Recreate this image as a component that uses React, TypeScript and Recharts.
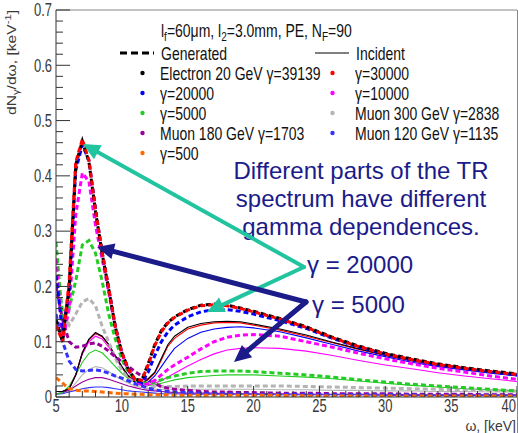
import React from 'react';
import { LineChart, Line, XAxis, YAxis, ReferenceLine } from 'recharts';

// photon energy omega [keV] (bin positions)
const OMEGA = [5, 5.5, 6, 6.5, 7, 7.5, 8, 8.5, 9, 9.5, 10, 10.5, 11, 11.5, 12, 12.5, 13, 13.5, 14, 15, 16, 17, 18, 19, 20, 22, 24, 26, 28, 30, 32, 34, 36, 38, 40];

// Generated spectra (dashed)
const GEN_E39139 = [0.14, 0.10, 0.20, 0.42, 0.463, 0.425, 0.335, 0.26, 0.195, 0.127, 0.08, 0.05, 0.032, 0.03, 0.06, 0.095, 0.12, 0.135, 0.145, 0.158, 0.166, 0.168, 0.166, 0.161, 0.155, 0.142, 0.127, 0.108, 0.092, 0.079, 0.069, 0.06, 0.053, 0.047, 0.042];
const GEN_G30000 = [0.13, 0.10, 0.21, 0.425, 0.466, 0.428, 0.338, 0.262, 0.197, 0.128, 0.08, 0.05, 0.032, 0.03, 0.058, 0.093, 0.118, 0.134, 0.144, 0.157, 0.165, 0.167, 0.165, 0.16, 0.154, 0.141, 0.126, 0.107, 0.091, 0.078, 0.068, 0.059, 0.052, 0.046, 0.041];
const GEN_G20000 = [0.22, 0.12, 0.19, 0.41, 0.456, 0.428, 0.34, 0.262, 0.197, 0.128, 0.08, 0.05, 0.031, 0.026, 0.045, 0.075, 0.1, 0.118, 0.13, 0.145, 0.154, 0.158, 0.158, 0.155, 0.15, 0.138, 0.124, 0.106, 0.09, 0.077, 0.067, 0.058, 0.051, 0.045, 0.04];
const GEN_G10000 = [0.25, 0.10, 0.16, 0.33, 0.405, 0.39, 0.31, 0.25, 0.19, 0.125, 0.078, 0.048, 0.03, 0.022, 0.024, 0.03, 0.04, 0.05, 0.058, 0.072, 0.087, 0.1, 0.108, 0.112, 0.113, 0.11, 0.1, 0.09, 0.079, 0.069, 0.06, 0.052, 0.045, 0.038, 0.032];
const GEN_G5000 = [0.28, 0.14, 0.16, 0.21, 0.275, 0.283, 0.26, 0.21, 0.15, 0.105, 0.068, 0.045, 0.032, 0.026, 0.025, 0.027, 0.031, 0.035, 0.038, 0.043, 0.046, 0.047, 0.047, 0.047, 0.046, 0.043, 0.04, 0.036, 0.031, 0.027, 0.023, 0.02, 0.017, 0.014, 0.011];
const GEN_M2838 = [0.22, 0.16, 0.13, 0.15, 0.172, 0.178, 0.165, 0.128, 0.1, 0.07, 0.048, 0.034, 0.026, 0.021, 0.019, 0.019, 0.019, 0.019, 0.019, 0.02, 0.02, 0.02, 0.02, 0.02, 0.02, 0.02, 0.019, 0.018, 0.017, 0.016, 0.015, 0.014, 0.013, 0.012, 0.011];
const GEN_M1703 = [0.2, 0.14, 0.1, 0.09, 0.092, 0.096, 0.098, 0.092, 0.083, 0.073, 0.064, 0.055, 0.046, 0.038, 0.03, 0.024, 0.019, 0.016, 0.014, 0.012, 0.01, 0.009, 0.009, 0.008, 0.008, 0.007, 0.007, 0.006, 0.006, 0.006, 0.005, 0.005, 0.005, 0.004, 0.004];
const GEN_M1135 = [0.15, 0.1, 0.065, 0.05, 0.047, 0.048, 0.049, 0.047, 0.043, 0.038, 0.034, 0.029, 0.024, 0.02, 0.016, 0.013, 0.011, 0.01, 0.009, 0.008, 0.007, 0.006, 0.006, 0.006, 0.005, 0.005, 0.005, 0.004, 0.004, 0.004, 0.004, 0.003, 0.003, 0.003, 0.003];
const GEN_G500 = [0.035, 0.025, 0.015, 0.012, 0.011, 0.011, 0.01, 0.009, 0.008, 0.007, 0.006, 0.006, 0.005, 0.005, 0.004, 0.004, 0.004, 0.004, 0.003, 0.003, 0.003, 0.003, 0.003, 0.003, 0.003, 0.003, 0.002, 0.002, 0.002, 0.002, 0.002, 0.002, 0.002, 0.002, 0.002];

// Incident spectra (solid)
const INC_E39139 = [0.01, 0.01, 0.015, 0.04, 0.08, 0.105, 0.117, 0.11, 0.095, 0.075, 0.055, 0.038, 0.027, 0.024, 0.033, 0.045, 0.07, 0.095, 0.11, 0.126, 0.133, 0.136, 0.137, 0.136, 0.132, 0.123, 0.112, 0.099, 0.087, 0.076, 0.066, 0.058, 0.051, 0.045, 0.04];
const INC_G30000 = [0.01, 0.01, 0.015, 0.04, 0.08, 0.104, 0.115, 0.109, 0.094, 0.074, 0.054, 0.037, 0.027, 0.024, 0.031, 0.043, 0.067, 0.092, 0.106, 0.123, 0.13, 0.134, 0.135, 0.134, 0.13, 0.121, 0.11, 0.098, 0.086, 0.075, 0.065, 0.057, 0.05, 0.044, 0.039];
const INC_G20000 = [0.01, 0.01, 0.015, 0.04, 0.08, 0.104, 0.115, 0.11, 0.095, 0.075, 0.055, 0.038, 0.027, 0.022, 0.027, 0.038, 0.055, 0.072, 0.088, 0.106, 0.117, 0.123, 0.126, 0.127, 0.125, 0.118, 0.107, 0.095, 0.083, 0.073, 0.063, 0.055, 0.049, 0.043, 0.038];
const INC_G10000 = [0.01, 0.01, 0.015, 0.04, 0.078, 0.1, 0.11, 0.105, 0.09, 0.072, 0.053, 0.037, 0.027, 0.022, 0.022, 0.025, 0.03, 0.036, 0.043, 0.056, 0.068, 0.078, 0.085, 0.088, 0.089, 0.088, 0.083, 0.075, 0.066, 0.058, 0.051, 0.044, 0.038, 0.033, 0.028];
const INC_G5000 = [0.005, 0.008, 0.02, 0.04, 0.063, 0.079, 0.085, 0.08, 0.068, 0.055, 0.043, 0.033, 0.026, 0.022, 0.021, 0.022, 0.025, 0.028, 0.031, 0.035, 0.037, 0.039, 0.04, 0.04, 0.04, 0.038, 0.036, 0.033, 0.029, 0.025, 0.021, 0.018, 0.015, 0.013, 0.011];
const INC_M2838 = [0.005, 0.007, 0.012, 0.025, 0.04, 0.05, 0.055, 0.053, 0.046, 0.038, 0.031, 0.025, 0.02, 0.017, 0.015, 0.014, 0.014, 0.014, 0.014, 0.014, 0.014, 0.014, 0.014, 0.014, 0.014, 0.013, 0.013, 0.012, 0.012, 0.011, 0.011, 0.01, 0.01, 0.009, 0.009];
const INC_M1703 = [0.006, 0.008, 0.012, 0.02, 0.027, 0.032, 0.035, 0.035, 0.032, 0.028, 0.024, 0.02, 0.017, 0.014, 0.012, 0.011, 0.01, 0.009, 0.008, 0.007, 0.007, 0.007, 0.006, 0.006, 0.006, 0.006, 0.005, 0.005, 0.005, 0.005, 0.004, 0.004, 0.004, 0.004, 0.004];
const INC_M1135 = [0.005, 0.006, 0.009, 0.012, 0.015, 0.017, 0.018, 0.018, 0.017, 0.015, 0.013, 0.011, 0.01, 0.009, 0.008, 0.007, 0.006, 0.006, 0.006, 0.005, 0.005, 0.005, 0.005, 0.005, 0.005, 0.004, 0.004, 0.004, 0.004, 0.003, 0.003, 0.003, 0.003, 0.003, 0.003];

// axis ticks
const X_TICKS = [5, 6, 7, 8, 9, 10, 11, 12, 13, 14, 15, 16, 17, 18, 19, 20, 21, 22, 23, 24, 25, 26, 27, 28, 29, 30, 31, 32, 33, 34, 35, 36, 37, 38, 39, 40];
const X_LABELS = ['5', '10', '15', '20', '25', '30', '35', '40'];
const Y_MAJOR = [0, 0.1, 0.2, 0.3, 0.4, 0.5, 0.6, 0.7];
const Y_LABELS = ['0', '0.1', '0.2', '0.3', '0.4', '0.5', '0.6', '0.7'];
const Y_TICKS: number[] = [];
for (let i = 0; i <= 35; i++) Y_TICKS.push(Math.round(i * 2) / 100);

const C = {
  black: '#000000',
  red: '#ff0000',
  blue: '#0000ff',
  magenta: '#ff00ff',
  green: '#22cc22',
  gray: '#b4b4b4',
  purple: '#990099',
  blue2: '#3333ff',
  orange: '#ff6a00',
};

const SERIES = [
  { key: 'iM2838', values: INC_M2838, color: C.gray, dashed: false },
  { key: 'iM1703', values: INC_M1703, color: C.purple, dashed: false },
  { key: 'iM1135', values: INC_M1135, color: C.blue2, dashed: false },
  { key: 'iG5000', values: INC_G5000, color: C.green, dashed: false },
  { key: 'iG10000', values: INC_G10000, color: C.magenta, dashed: false },
  { key: 'iG20000', values: INC_G20000, color: C.blue, dashed: false },
  { key: 'iG30000', values: INC_G30000, color: C.red, dashed: false },
  { key: 'iE39139', values: INC_E39139, color: C.black, dashed: false },
  { key: 'gM2838', values: GEN_M2838, color: C.gray, dashed: true },
  { key: 'gM1703', values: GEN_M1703, color: C.purple, dashed: true },
  { key: 'gM1135', values: GEN_M1135, color: C.blue2, dashed: true },
  { key: 'gG5000', values: GEN_G5000, color: C.green, dashed: true },
  { key: 'gG10000', values: GEN_G10000, color: C.magenta, dashed: true },
  { key: 'gG20000', values: GEN_G20000, color: C.blue, dashed: true },
  { key: 'gE39139', values: GEN_E39139, color: C.black, dashed: true },
  { key: 'gG30000', values: GEN_G30000, color: C.red, dashed: true },
  { key: 'gG500', values: GEN_G500, color: C.orange, dashed: true },
];

const ROWS = OMEGA.map((w, i) => {
  const r: Record<string, number> = { w };
  SERIES.forEach((s) => { r[s.key] = s.values[i]; });
  return r;
});

const LEFT_LEGEND = [
  { label: 'Electron 20 GeV γ=39139', color: C.black },
  { label: 'γ=20000', color: C.blue },
  { label: 'γ=5000', color: C.green },
  { label: 'Muon 180 GeV γ=1703', color: C.purple },
  { label: 'γ=500', color: C.orange },
];
const RIGHT_LEGEND = [
  { label: 'γ=30000', color: C.red },
  { label: 'γ=10000', color: C.magenta },
  { label: 'Muon 300 GeV γ=2838', color: C.gray },
  { label: 'Muon 120 GeV γ=1135', color: C.blue2 },
];

const FONT = '"Liberation Sans", Arial, Helvetica, sans-serif';
const AXIS_X = 56;
const AXIS_Y = 397;
const TXT = '#3a3a3a';
const NAVY = '#1b1b8a';
const TEAL = '#22c4a0';

const YTick = (props: any) => {
  const { payload } = props;
  const v = payload.value;
  const y = payload.coordinate;
  const idx = Y_MAJOR.findIndex((m) => Math.abs(m - v) < 1e-6);
  const major = idx >= 0;
  return (
    <g>
      <line x1={AXIS_X} x2={AXIS_X + (major ? 14 : 7)} y1={y} y2={y} stroke="#333" strokeWidth={1} />
      {major && (
        <text transform={`translate(52,${y}) scale(1,1.35)`} textAnchor="end" dy="0.36em" fontSize={13} fontFamily={FONT} fill={TXT}>
          {Y_LABELS[idx]}
        </text>
      )}
    </g>
  );
};

const XTick = (props: any) => {
  const { payload } = props;
  const v = payload.value;
  const x = payload.coordinate;
  const major = v % 5 === 0;
  const last = v === X_TICKS[X_TICKS.length - 1];
  return (
    <g>
      <line x1={x} x2={x} y1={AXIS_Y} y2={AXIS_Y - (major ? 11 : 6)} stroke="#333" strokeWidth={1} />
      {major && (
        <text
          transform={`translate(${last ? x - 1 : x},412) scale(1,1.35)`}
          textAnchor={last ? 'end' : 'middle'}
          fontSize={13}
          fontFamily={FONT}
          fill={TXT}
        >
          {X_LABELS[(v - 5) / 5]}
        </text>
      )}
    </g>
  );
};

const Arrow = ({ x1, y1, x2, y2, color, w, head = 17, half = 8 }: any) => {
  const dx = x2 - x1;
  const dy = y2 - y1;
  const L = Math.hypot(dx, dy);
  const ux = dx / L;
  const uy = dy / L;
  const bx = x2 - ux * head;
  const by = y2 - uy * head;
  const px = -uy;
  const py = ux;
  return (
    <g>
      <line x1={x1} y1={y1} x2={bx + ux * 3} y2={by + uy * 3} stroke={color} strokeWidth={w} strokeLinecap="round" />
      <polygon points={`${x2},${y2} ${bx + px * half},${by + py * half} ${bx - px * half},${by - py * half}`} fill={color} />
    </g>
  );
};

const Overlay = () => (
  <svg width={518} height={433} style={{ position: 'absolute', left: 0, top: 0, pointerEvents: 'none' }}>
    {/* pad border right */}
    <line x1={517.5} y1={10} x2={517.5} y2={433} stroke="#888" strokeWidth={1} />
    {/* y title */}
    <text transform="translate(16,10) rotate(-90) scale(1.25,1)" textAnchor="end" fontSize={12.5} fontFamily={FONT} fill={TXT}>
      dN<tspan fontSize={9} dy={3}>γ</tspan><tspan dy={-3}>/dω, [keV</tspan><tspan fontSize={9} dy={-5}>-1</tspan><tspan dy={5}>]</tspan>
    </text>
    {/* x title */}
    <text x={516} y={431} textAnchor="end" fontSize={14} fontFamily={FONT} fill={TXT}>ω, [keV]</text>
    {/* legend header */}
    <text transform="translate(161,37) scale(1,1.3)" fontSize={14} fontFamily={FONT} fill="#111">
      l<tspan fontSize={10} dy={3}>f</tspan><tspan dy={-3}>=60μm, l</tspan><tspan fontSize={10} dy={3}>2</tspan><tspan dy={-3}>=3.0mm, PE, N</tspan><tspan fontSize={10} dy={3}>F</tspan><tspan dy={-3}>=90</tspan>
    </text>
    <line x1={120} x2={154} y1={53} y2={53} stroke="#000" strokeWidth={3} strokeDasharray="7 4" />
    <text transform="translate(161,59.5) scale(1,1.3)" fontSize={14} fontFamily={FONT} fill="#111">Generated</text>
    <line x1={315} x2={349} y1={53} y2={53} stroke="#000" strokeWidth={1} />
    <text transform="translate(356,59.5) scale(1,1.3)" fontSize={14} fontFamily={FONT} fill="#111">Incident</text>
    {LEFT_LEGEND.map((e, i) => (
      <g key={e.label}>
        <circle cx={142.5} cy={73 + i * 20} r={2.2} fill={e.color} />
        <text transform={`translate(160,${79.5 + i * 20}) scale(1,1.3)`} fontSize={14} fontFamily={FONT} fill="#111">{e.label}</text>
      </g>
    ))}
    {RIGHT_LEGEND.map((e, i) => (
      <g key={e.label}>
        <circle cx={332.5} cy={73 + i * 20} r={2.2} fill={e.color} />
        <text transform={`translate(355,${79.5 + i * 20}) scale(1,1.3)`} fontSize={14} fontFamily={FONT} fill="#111">{e.label}</text>
      </g>
    ))}
    {/* annotations */}
    <g fontFamily={FONT} fill={NAVY} fontSize={24}>
      <text x={361} y={179} textAnchor="middle">Different parts of the TR</text>
      <text x={361} y={207} textAnchor="middle">spectrum have different</text>
      <text x={361} y={235} textAnchor="middle">gamma dependences.</text>
      <text x={307} y={273}>γ = 20000</text>
      <text x={312} y={313}>γ = 5000</text>
    </g>
    <Arrow x1={304} y1={267} x2={83} y2={144} color={TEAL} w={4} />
    <Arrow x1={304} y1={267} x2={207} y2={312} color={TEAL} w={4} />
    <Arrow x1={306} y1={302} x2={97} y2={247} color={NAVY} w={5} />
    <Arrow x1={306} y1={302} x2={234} y2={362} color={NAVY} w={5} />
  </svg>
);

export default function App() {
  return (
    <div style={{ position: 'absolute', left: 0, top: 0, width: 518, height: 433, background: '#fff' }}>
      <LineChart width={518} height={433} data={ROWS} margin={{ top: 10, right: 1, bottom: 0, left: 0 }}>
        <XAxis
          dataKey="w"
          type="number"
          domain={[5, 40]}
          ticks={X_TICKS}
          interval={0}
          height={36}
          axisLine={{ stroke: '#333' }}
          tickLine={false}
          tick={(p: any) => <XTick {...p} />}
          allowDataOverflow
        />
        <YAxis
          type="number"
          domain={[0, 0.7]}
          ticks={Y_TICKS}
          interval={0}
          width={56}
          axisLine={{ stroke: '#333' }}
          tickLine={false}
          tick={(p: any) => <YTick {...p} />}
          allowDataOverflow
        />
        <ReferenceLine y={0.7} stroke="#888" strokeWidth={1} />
        {SERIES.map((s) => (
          <Line
            key={s.key}
            dataKey={s.key}
            type="linear"
            stroke={s.color}
            strokeWidth={s.dashed ? 3 : 1.1}
            strokeDasharray={s.dashed ? '5 3' : undefined}
            dot={false}
            activeDot={false}
            isAnimationActive={false}
          />
        ))}
      </LineChart>
      <Overlay />
    </div>
  );
}
